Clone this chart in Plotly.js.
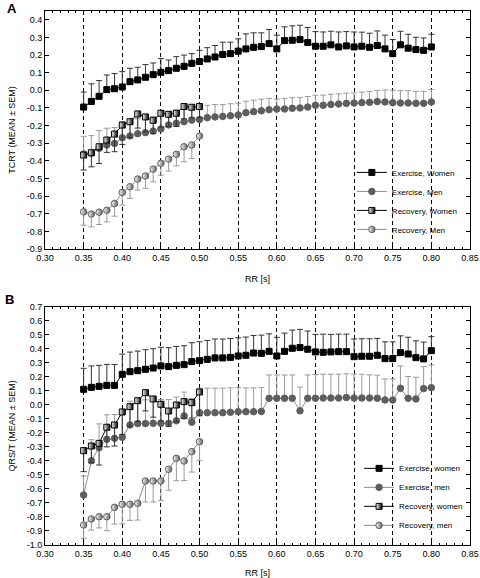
<!DOCTYPE html>
<html><head><meta charset="utf-8">
<script src="https://cdn.plot.ly/plotly-3.0.1.min.js"></script>
<style>html,body{margin:0;padding:0;background:#fff}#chart{width:480px;height:578px}</style>
</head><body><div id="chart"></div>
<script>
// ---------- data ----------
const rrExercise = [0.35,0.36,0.37,0.38,0.39,0.40,0.41,0.42,0.43,0.44,0.45,0.46,0.47,0.48,0.49,0.50,0.51,0.52,0.53,0.54,0.55,0.56,0.57,0.58,0.59,0.60,0.61,0.62,0.63,0.64,0.65,0.66,0.67,0.68,0.69,0.70,0.71,0.72,0.73,0.74,0.75,0.76,0.77,0.78,0.79,0.80];
const rrRecovery = [0.35,0.36,0.37,0.38,0.39,0.40,0.41,0.42,0.43,0.44,0.45,0.46,0.47,0.48,0.49,0.50];

// Panel A: TCRT
const tcrtExWomen = [-0.095,-0.063,-0.034,0.004,0.009,0.019,0.049,0.059,0.074,0.089,0.102,0.112,0.125,0.136,0.153,0.163,0.178,0.189,0.203,0.208,0.222,0.235,0.244,0.248,0.265,0.235,0.282,0.284,0.288,0.271,0.25,0.25,0.258,0.246,0.252,0.246,0.25,0.244,0.254,0.235,0.208,0.258,0.239,0.231,0.227,0.246];
const tcrtExWomenSem = [0.085,0.10,0.089,0.083,0.086,0.087,0.076,0.072,0.072,0.066,0.078,0.06,0.066,0.064,0.055,0.064,0.064,0.065,0.07,0.065,0.07,0.085,0.082,0.078,0.08,0.078,0.078,0.082,0.081,0.085,0.083,0.081,0.077,0.085,0.081,0.085,0.08,0.08,0.083,0.078,0.08,0.077,0.079,0.07,0.07,0.072];
const tcrtExMen = [-0.361,-0.357,-0.329,-0.310,-0.301,-0.269,-0.259,-0.246,-0.240,-0.231,-0.219,-0.196,-0.187,-0.178,-0.169,-0.165,-0.155,-0.151,-0.148,-0.144,-0.140,-0.127,-0.121,-0.116,-0.110,-0.106,-0.106,-0.102,-0.100,-0.095,-0.085,-0.085,-0.080,-0.078,-0.074,-0.072,-0.070,-0.068,-0.064,-0.066,-0.070,-0.072,-0.072,-0.074,-0.074,-0.066];
const tcrtExMenSem = [0.1,0.1,0.1,0.095,0.09,0.09,0.085,0.085,0.08,0.08,0.08,0.075,0.075,0.075,0.07,0.07,0.07,0.07,0.068,0.068,0.067,0.065,0.065,0.066,0.064,0.056,0.06,0.06,0.06,0.06,0.057,0.058,0.058,0.058,0.058,0.057,0.06,0.062,0.064,0.068,0.07,0.07,0.07,0.068,0.068,0.07];
const tcrtRecWomen = [-0.367,-0.354,-0.32,-0.282,-0.248,-0.197,-0.178,-0.134,-0.151,-0.170,-0.130,-0.136,-0.130,-0.092,-0.096,-0.092];
const tcrtRecWomenSem = [0.085,0.08,0.095,0.07,0.1,0.11,0.09,0.08,0.085,0.075,0.08,0.07,0.075,0.07,0.06,0.065];
const tcrtRecMen = [-0.689,-0.702,-0.691,-0.680,-0.642,-0.579,-0.547,-0.503,-0.486,-0.447,-0.414,-0.390,-0.363,-0.320,-0.310,-0.259];
const tcrtRecMenSem = [0.076,0.072,0.07,0.066,0.072,0.072,0.066,0.063,0.07,0.072,0.067,0.068,0.065,0.085,0.076,0];

// Panel B: QRS/T
const qrstExWomen = [0.112,0.126,0.133,0.14,0.14,0.219,0.238,0.245,0.255,0.264,0.279,0.274,0.283,0.288,0.31,0.317,0.326,0.336,0.336,0.34,0.35,0.355,0.371,0.369,0.383,0.35,0.383,0.405,0.41,0.398,0.379,0.376,0.379,0.381,0.381,0.345,0.348,0.348,0.355,0.331,0.331,0.374,0.364,0.338,0.329,0.388];
const qrstExWomenSem = [0.15,0.153,0.15,0.15,0.15,0.145,0.14,0.14,0.14,0.138,0.133,0.135,0.135,0.135,0.135,0.135,0.135,0.135,0.135,0.135,0.13,0.13,0.125,0.13,0.125,0.133,0.13,0.13,0.13,0.13,0.125,0.13,0.125,0.125,0.125,0.126,0.125,0.125,0.12,0.12,0.12,0.12,0.12,0.12,0.12,0.1];
const qrstExMen = [-0.643,-0.398,-0.305,-0.245,-0.238,-0.231,-0.143,-0.133,-0.133,-0.131,-0.131,-0.131,-0.113,-0.078,-0.123,-0.055,-0.055,-0.055,-0.055,-0.052,-0.048,-0.048,-0.048,-0.046,0.048,0.048,0.048,0.048,-0.042,0.048,0.048,0.05,0.05,0.05,0.053,0.05,0.05,0.05,0.048,0.036,0.036,0.119,0.048,0.043,0.117,0.124];
const qrstExMenSem = [0.136,0.15,0.17,0.175,0.17,0.17,0.17,0.17,0.17,0.17,0.17,0.17,0.17,0.17,0.17,0.175,0.175,0.175,0.175,0.175,0.172,0.17,0.17,0.17,0.166,0.166,0.166,0.166,0.17,0.166,0.17,0.17,0.17,0.17,0.17,0.17,0.17,0.165,0.165,0.15,0.15,0.16,0.155,0.155,0.157,0.162];
const qrstRecWomen = [-0.326,-0.293,-0.274,-0.159,-0.143,-0.05,-0.012,0.031,0.088,0.043,0.005,-0.043,0.0,0.024,0.017,0.093];
const qrstRecWomenSem = [0.15,0.12,0.155,0.14,0.15,0.16,0.14,0.15,0.13,0.13,0.12,0.11,0.12,0.12,0.11,0.17];
const qrstRecMen = [-0.857,-0.814,-0.798,-0.798,-0.731,-0.709,-0.709,-0.702,-0.543,-0.543,-0.543,-0.459,-0.381,-0.4,-0.333,-0.262];
const qrstRecMenSem = [0.095,0.08,0.08,0.1,0.12,0.14,0.115,0.12,0.15,0.15,0.14,0.15,0.16,0.14,0.146,0.133];

// tick labels
const xTickVals = [0.30,0.35,0.40,0.45,0.50,0.55,0.60,0.65,0.70,0.75,0.80,0.85];
const xTickText = ['0.30','0.35','0.40','0.45','0.50','0.55','0.60','0.65','0.70','0.75','0.80','0.85'];
const yTickValsA = [0.4,0.3,0.2,0.1,0.0,-0.1,-0.2,-0.3,-0.4,-0.5,-0.6,-0.7,-0.8,-0.9];
const yTickTextA = ['0.4','0.3','0.2','0.1','0.0','-0.1','-0.2','-0.3','-0.4','-0.5','-0.6','-0.7','-0.8','-0.9'];
const yTickValsB = [0.7,0.6,0.5,0.4,0.3,0.2,0.1,0.0,-0.1,-0.2,-0.3,-0.4,-0.5,-0.6,-0.7,-0.8,-0.9,-1.0];
const yTickTextB = ['0.7','0.6','0.5','0.4','0.3','0.2','0.1','0.0','-0.1','-0.2','-0.3','-0.4','-0.5','-0.6','-0.7','-0.8','-0.9','-1.0'];

const namesA = ['Exercise, Women','Exercise, Men','Recovery, Women','Recovery, Men'];
const namesB = ['Exercise, women','Exercise, men','Recovery, women','Recovery, men'];

// ---------- styles ----------
const BLACK = '#000000', GRAYM = '#5e5e5e', GRAYL = '#8c8c8c', GRAYE = '#9a9a9a';
const FONT = 'Liberation Sans, Arial, sans-serif';

function zeros(n){ return new Array(n).fill(0); }

function series(x, y, sem, name, kind, xa, ya, legendId, upper){
  const styles = {
    exW: {marker:{symbol:'square', size:6, color:BLACK, line:{color:BLACK, width:1}}, line:{color:BLACK, width:1}, err:'#333'},
    exM: {marker:{symbol:'circle', size:6.5, color:GRAYM, line:{color:GRAYM, width:1}}, line:{color:GRAYL, width:1}, err:GRAYE},
    recW:{marker:{symbol:'square', size:6, color:'#ffffff', line:{color:BLACK, width:1}, gradient:{type:'horizontal', color:BLACK}}, line:{color:BLACK, width:1}, err:'#333'},
    recM:{marker:{symbol:'circle', size:6.5, color:'#ffffff', line:{color:GRAYM, width:1}, gradient:{type:'horizontal', color:GRAYM}}, line:{color:GRAYL, width:1}, err:GRAYE}
  }[kind];
  return {
    type:'scatter', mode:'lines+markers', x:x, y:y, name:name,
    xaxis:xa, yaxis:ya, legend:legendId,
    marker:styles.marker, line:styles.line,
    error_y:{type:'data', symmetric:false,
      array: upper ? sem : zeros(sem.length),
      arrayminus: upper ? zeros(sem.length) : sem,
      color:styles.err, thickness:1, width:3}
  };
}

const traces = [
  series(rrExercise, tcrtExWomen, tcrtExWomenSem, namesA[0], 'exW', 'x', 'y', 'legend', true),
  series(rrExercise, tcrtExMen, tcrtExMenSem, namesA[1], 'exM', 'x', 'y', 'legend', true),
  series(rrRecovery, tcrtRecWomen, tcrtRecWomenSem, namesA[2], 'recW', 'x', 'y', 'legend', false),
  series(rrRecovery, tcrtRecMen, tcrtRecMenSem, namesA[3], 'recM', 'x', 'y', 'legend', false),
  series(rrExercise, qrstExWomen, qrstExWomenSem, namesB[0], 'exW', 'x2', 'y2', 'legend2', true),
  series(rrExercise, qrstExMen, qrstExMenSem, namesB[1], 'exM', 'x2', 'y2', 'legend2', true),
  series(rrRecovery, qrstRecWomen, qrstRecWomenSem, namesB[2], 'recW', 'x2', 'y2', 'legend2', false),
  series(rrRecovery, qrstRecMen, qrstRecMenSem, namesB[3], 'recM', 'x2', 'y2', 'legend2', false)
];

function xAxis(anchor, standoff){
  return {
    anchor:anchor, domain:[0,1], range:[0.30,0.85],
    tickmode:'array', tickvals:xTickVals, ticktext:xTickText,
    ticks:'inside', ticklen:4, tickwidth:1, tickcolor:'#000',
    minor:{ticks:'inside', ticklen:2, dtick:0.01, tick0:0.30, tickcolor:'#000', showgrid:false},
    showline:true, linecolor:'#000', linewidth:1, mirror:'ticks',
    showgrid:true, gridcolor:'#000', gridwidth:1, griddash:'4px,3px',
    zeroline:false,
    tickfont:{family:FONT, size:9, color:'#000'},
    title:{text:'RR [s]', font:{family:FONT, size:9, color:'#000'}, standoff:standoff}
  };
}
function yAxis(anchor, domain, range, vals, text, title){
  return {
    anchor:anchor, domain:domain, range:range,
    tickmode:'array', tickvals:vals, ticktext:text,
    ticks:'inside', ticklen:4, tickwidth:1, tickcolor:'#000',
    showline:true, linecolor:'#000', linewidth:1, mirror:'ticks',
    showgrid:false, zeroline:false,
    tickfont:{family:FONT, size:9, color:'#000'},
    title:{text:title, font:{family:FONT, size:9, color:'#000'}, standoff:9}
  };
}

const layout = {
  width:480, height:578,
  margin:{l:45, r:10, t:0, b:0},
  paper_bgcolor:'#fff', plot_bgcolor:'#fff',
  font:{family:FONT, size:9, color:'#000'},
  xaxis: xAxis('y', 13),
  yaxis: yAxis('x', [0.5692,0.9810], [-0.9,0.45], yTickValsA, yTickTextA, 'TCRT (MEAN ± SEM)'),
  xaxis2: xAxis('y2', 11),
  yaxis2: yAxis('x2', [0.0571,0.4689], [-1.0,0.7], yTickValsB, yTickTextB, 'QRS/T (MEAN ± SEM)'),
  showlegend:true,
  legend:{x:0.722, y:0.578, xanchor:'left', yanchor:'bottom', bgcolor:'rgba(0,0,0,0)',
    font:{family:FONT, size:8, color:'#000'}, itemwidth:30, tracegroupgap:0},
  legend2:{x:0.739, y:0.066, xanchor:'left', yanchor:'bottom', bgcolor:'rgba(0,0,0,0)',
    font:{family:FONT, size:8, color:'#000'}, itemwidth:30, tracegroupgap:0},
  annotations:[
    {text:'<b>A</b>', xref:'paper', yref:'paper', x:-0.095, y:1.002, xanchor:'left', yanchor:'top', showarrow:false, font:{family:FONT, size:13, color:'#000'}},
    {text:'<b>B</b>', xref:'paper', yref:'paper', x:-0.1, y:0.498, xanchor:'left', yanchor:'top', showarrow:false, font:{family:FONT, size:13, color:'#000'}}
  ]
};

Plotly.newPlot('chart', traces, layout, {displayModeBar:false, staticPlot:true});
</script>
</body></html>
